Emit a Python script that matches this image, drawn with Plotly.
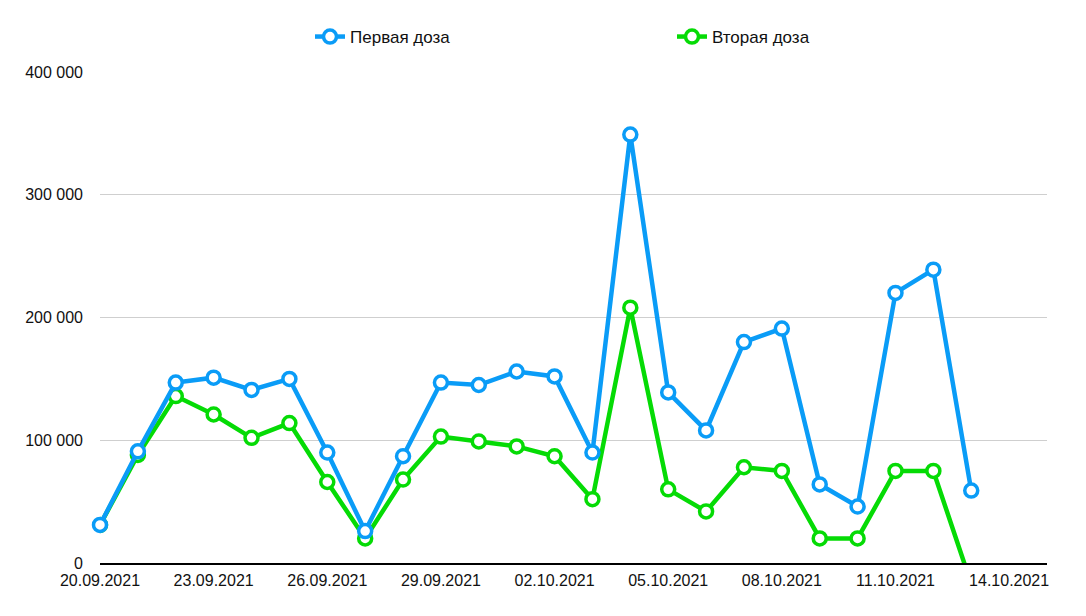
import plotly.graph_objects as go
import pandas as pd

dates = pd.date_range("2021-09-20", "2021-10-13", freq="D")
first_dose = [31000, 91000, 147000, 151000, 141000, 150000, 90000, 26000, 87000, 147000,
              145000, 156000, 152000, 90000, 349000, 139000, 108000, 180000, 191000, 64000,
              46000, 220000, 239000, 59000]
second_dose = [31000, 88000, 136000, 121000, 102000, 114000, 66000, 20000, 68000, 103000,
               99000, 95000, 87000, 52000, 208000, 60000, 42000, 78000, 75000, 20000,
               20000, 75000, 75000, -17000]
series_names = ["Первая доза", "Вторая доза"]
colors = ["#0A9CF7", "#05DB05"]

fig = go.Figure()
fig.add_trace(go.Scatter(
    x=dates, y=second_dose, name=series_names[1], mode="lines+markers",
    line=dict(color=colors[1], width=4.5),
    marker=dict(symbol="circle", size=13, color="white", line=dict(color=colors[1], width=3.5)),
    cliponaxis=True,
))
fig.add_trace(go.Scatter(
    x=dates, y=first_dose, name=series_names[0], mode="lines+markers",
    line=dict(color=colors[0], width=4.5),
    marker=dict(symbol="circle", size=13, color="white", line=dict(color=colors[0], width=3.5)),
    cliponaxis=False,
))

fig.update_layout(
    width=1086, height=616,
    margin=dict(l=100, r=39, t=72, b=53, autoexpand=False),
    plot_bgcolor="white", paper_bgcolor="white",
    font=dict(family="Liberation Sans, Arial, sans-serif", size=16, color="#111"),
    separators=". ",
    legend=dict(orientation="h", xref="container", yref="container",
                x=310 / 1086, xanchor="left", y=1 - 37 / 616, yanchor="middle",
                traceorder="reversed", entrywidth=317, font=dict(size=17),
                itemwidth=30),
    showlegend=True,
)
fig.update_xaxes(
    type="date", range=["2021-09-20", "2021-10-15"],
    tick0="2021-09-20", dtick=3 * 86400000, tickformat="%d.%m.%Y",
    showgrid=False, showline=True, linecolor="black", linewidth=2,
    ticks="", ticklabelstandoff=2,
)
fig.update_yaxes(
    range=[0, 400000], dtick=100000, tickformat=",d",
    showgrid=True, gridcolor="#CFCFCF", gridwidth=1, zeroline=False,
    ticks="", ticklabelstandoff=16,
)

fig.write_html("out.html")
